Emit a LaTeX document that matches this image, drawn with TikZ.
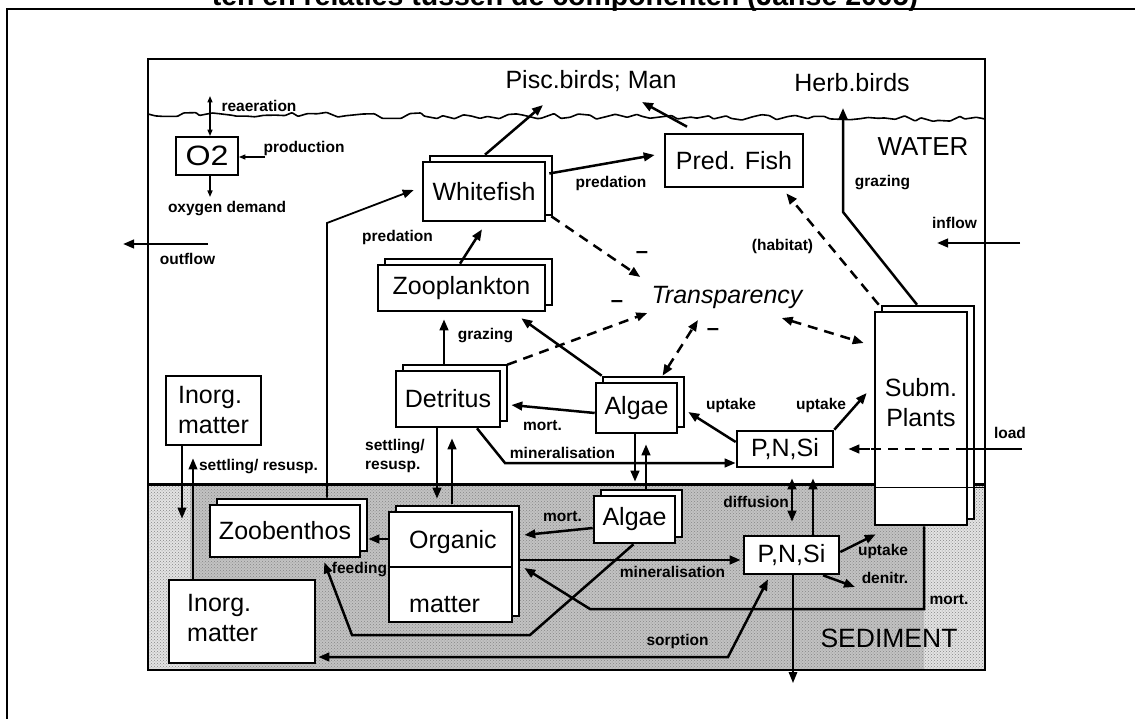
\documentclass[tikz,border=0pt]{standalone}
\usepackage{fontspec}
\setmainfont{Liberation Sans}
\usetikzlibrary{arrows.meta,shadows,patterns,decorations.pathmorphing,calc}
\begin{document}
\begin{tikzpicture}[x=1pt,y=-1pt,
  >={Triangle[length=11pt,width=8.5pt]},
  ln/.style={line width=2.5pt},
  arr/.style={ln,->},
  darr/.style={ln,<->},
  dsh/.style={ln,dash pattern=on 10pt off 7pt},
  thinarr/.style={line width=1.4pt,>={Triangle[length=6.5pt,width=5pt]}},
  box/.style={draw,line width=2.6pt,fill=white,inner sep=0pt,font=\fontsize{25}{30}\selectfont},
  dbox/.style={box,copy shadow={shadow xshift=7pt,shadow yshift=6pt,draw=black,fill=white,line width=2.6pt}},
  lbl/.style={inner sep=0pt,font=\bfseries\fontsize{15.5}{19}\selectfont},
  minus/.style={inner sep=0pt,font=\bfseries\fontsize{22}{24}\selectfont},
  txt/.style={inner sep=0pt,font=\fontsize{25}{30}\selectfont}]
\useasboundingbox (0,0) rectangle (1135,719);
% title (cropped at top)
\node[anchor=base,inner sep=0pt,font=\bfseries\fontsize{28.5}{30}\selectfont] (title) at (565,6) {ten en relaties tussen de componenten (Janse 2005)};
% outer frame
\draw[line width=1.8pt] (1135,9) -- (7,9) -- (7,719);
% sediment
\fill[gray!22] (148,484) rectangle (985,670);
\fill[gray!48] (190,484) rectangle (924,670);
\fill[pattern=crosshatch dots,pattern color=gray!95] (148,484) rectangle (985,670);
\draw[line width=1.5pt] (148,59) rectangle (985,670);
\draw[line width=3pt] (148,484) -- (985,484);
% water surface
\draw[line width=1.6pt,decorate,decoration={random steps,segment length=9pt,amplitude=3pt},rounded corners=0.8pt] (148,114) -- (985,119);

% coordinates for free ends and bends
\coordinate (rea) at (210,96);
\coordinate (prodS) at (265,157);
\coordinate (oxyE) at (210,197);
\coordinate (outS) at (208,244);
\coordinate (outE) at (123,244);
\coordinate (inS) at (1020,243);
\coordinate (inE) at (937,243);
\coordinate (piscTipA) at (543,105);
\coordinate (piscTipB) at (642,102);
\coordinate (herbTip) at (843,108);
\coordinate (grzBend) at (843,212);
\coordinate (minBend) at (505,463);
\coordinate (zbBend) at (327,223);
\coordinate (feedA) at (530,635);
\coordinate (feedB) at (352,635);
\coordinate (mortA) at (924,609);
\coordinate (mortB) at (590,609);
\coordinate (sorpB) at (728,657);
\coordinate (denTip) at (855,587);
\coordinate (downTip) at (793,683);
\coordinate (loadS) at (1022,449);
\coordinate (loadM) at (966,449);
\coordinate (loadD) at (870,449);

% boxes
\node[box,line width=1.8pt,minimum width=62pt,minimum height=38pt,font=\fontsize{28}{30}\selectfont] (o2) at (207,156) {\scalebox{1.15}[1]{O2}};
\node[dbox,minimum width=122pt,minimum height=59pt] (wf) at (484,191.5) {Whitefish};
\node[box,minimum width=138pt,minimum height=53pt] (pf) at (734,160.5) {Pred. Fish};
\node[dbox,minimum width=167pt,minimum height=46pt] (zp) at (461.5,288) {Zooplankton};
\node[dbox,minimum width=104pt,minimum height=56pt] (det) at (448,399) {Detritus};
\node[dbox,minimum width=81pt,minimum height=50pt] (alg) at (636.5,408) {Algae};
\node[box,minimum width=96pt,minimum height=36pt] (pns) at (785,449) {P,N,Si};
\node[dbox,minimum width=92pt,minimum height=213pt] (subm) at (921,418.5) {};
\node[txt,align=center] (submt) at (921,403) {Subm.\\Plants};
\node[box,minimum width=95pt,minimum height=69pt,align=left] (inw) at (213.5,410.5) {Inorg.\\matter};
\node[dbox,minimum width=150pt,minimum height=52pt] (zb) at (285,531) {Zoobenthos};
\node[dbox,minimum width=123pt,minimum height=110pt] (org) at (450.5,567) {};
\draw[line width=2pt] (org.west) -- (org.east);
\node[txt,anchor=west] (orgA) at (409,542) {Organic};
\node[txt,anchor=west] (orgB) at (409,605) {matter};
\node[dbox,minimum width=81pt,minimum height=47pt] (algs) at (634.5,519.5) {Algae};
\node[box,minimum width=95pt,minimum height=38pt] (pnss) at (791.5,555) {P,N,Si};
\node[box,minimum width=146pt,minimum height=83pt] (ins) at (242,621.5) {};
\node[txt,anchor=west,align=left] (insA) at (187,618) {Inorg.\\matter};
\draw[line width=0.8pt] (875,487) -- (985,487);

% free texts
\node[txt] (pisc) at (591,81) {Pisc.birds; Man};
\node[txt] (herb) at (852,83) {Herb.birds};
\node[txt,font=\fontsize{26}{30}\selectfont] (water) at (923,147) {WATER};
\node[txt,font=\fontsize{26.5}{30}\selectfont] (sed) at (889,638) {SEDIMENT};
\node[txt,font=\itshape\fontsize{25}{30}\selectfont] (tr) at (727,297) {Transparency};

% O2 connectors
\draw[thinarr,<->] (rea) -- (o2.north -| rea);
\draw[thinarr,->] (prodS) -- (o2.east |- prodS);
\draw[thinarr,->] (o2.south -| oxyE) -- (oxyE);
% in / out
\draw[arr] (outS) -- (outE);
\draw[arr] (inS) -- (inE);
% fish
\draw[arr] ([xshift=1pt,yshift=6pt]wf.north) -- (piscTipA);
\draw[arr] ([xshift=-47pt,yshift=6pt]pf.north) -- (piscTipB);
\draw[arr] ([xshift=3pt,yshift=18pt]wf.east) -- ([xshift=-9pt,yshift=5.5pt]pf.west);
\draw[arr] ([xshift=-1.5pt]zp.north) -- ([xshift=-2pt,yshift=-7pt]wf.south);
\draw[arr] ([xshift=-4pt,yshift=6pt]det.north) -- ([xshift=-17.5pt,yshift=-7pt]zp.south);
\draw[arr] ([xshift=7pt,yshift=6pt]alg.north west) -- ([xshift=-25pt,yshift=-6pt]zp.south east);
\draw[arr] ([yshift=-5pt]alg.west) -- ([xshift=10pt,yshift=-6pt]det.east);
\draw[arr] ([xshift=29pt]det.south) -- (minBend) -- (minBend -| pns.west);
\draw[arr] ([yshift=7pt]pns.west) -- ([xshift=10pt,yshift=-4pt]alg.east);
\draw[arr] (pns.north east) -- ([xshift=-7pt,yshift=25.5pt]subm.west);
\draw[arr] ([xshift=-4pt,yshift=6pt]subm.north) -- (grzBend) -- (herbTip);
% dashed
\draw[dsh,->] ([xshift=5pt,yshift=6pt]subm.north west) -- ([xshift=-18pt,yshift=-5pt]pf.south east);
\draw[dsh,<->] ([xshift=-21pt,yshift=-21pt]tr.east) -- ([xshift=-10pt,yshift=75.5pt]subm.west);
\draw[dsh,->] ([xshift=5pt,yshift=6pt]wf.south east) -- ([xshift=-11pt,yshift=20pt]tr.west);
\draw[dsh,->] ([xshift=6pt,yshift=5pt]det.north east) -- ([xshift=-4pt,yshift=-16pt]tr.west);
\draw[dsh,<->] ([xshift=26pt,yshift=6pt]alg.north) -- ([xshift=-29pt,yshift=-23pt]tr.center);
% water <-> sediment
\draw[arr] ([xshift=-1.5pt]alg.south) -- ([xshift=0.5pt,yshift=13pt]algs.north);
\draw[arr] ([xshift=11.5pt,yshift=4pt]algs.north) -- ([xshift=9.5pt,yshift=-10pt]alg.south);
\draw[arr] ([xshift=-11pt]det.south) -- ([xshift=-13.5pt,yshift=12pt]org.north);
\draw[arr] ([xshift=1.5pt,yshift=7pt]org.north) -- ([xshift=4pt,yshift=-10pt]det.south);
\draw[arr,line width=2pt] ([xshift=-31.5pt]inw.south) -- ([xshift=-60pt,yshift=60pt]ins.north);
\draw[arr,line width=2pt] ([xshift=-49pt]ins.north) -- ([xshift=-20.5pt,yshift=-12pt]inw.south);
\draw[arr,line width=1.8pt] ([xshift=42pt,yshift=6pt]zb.north) -- (zbBend) -- ([xshift=-8pt,yshift=1.5pt]wf.west);
\draw[darr] ([xshift=7pt,yshift=-10pt]pns.south) -- ([xshift=0.5pt,yshift=13pt]pnss.north);
\draw[arr] ([xshift=21.5pt]pnss.north) -- ([xshift=28pt,yshift=-10pt]pns.south);
% sediment
\draw[arr] ([yshift=28pt]org.west) -- ([xshift=7pt,yshift=-8pt]zb.east);
\draw[arr] ([yshift=-8.5pt]algs.west) -- ([xshift=11pt,yshift=32pt]org.east);
\draw[arr] ([xshift=6pt,yshift=7pt]org.east) -- ([xshift=-2pt,yshift=-5pt]pnss.west);
\draw[arr] ([xshift=-1pt]algs.south) -- (feedA) -- (feedB) -- ([xshift=-37pt,yshift=-4pt]zb.south east);
\draw[arr] ([xshift=3pt]subm.south) -- (mortA) -- (mortB) -- ([xshift=11pt,yshift=-1pt]org.east);
\draw[darr] ([xshift=-23.5pt,yshift=-4pt]pnss.south) -- (sorpB) -- ([xshift=2pt,yshift=-35.5pt]ins.east);
\draw[arr] ([yshift=3pt]pnss.east) -- ([xshift=2pt,yshift=-8pt]subm.south west);
\draw[arr] ([xshift=31.5pt]pnss.south) -- (denTip);
\draw[arr,line width=1.6pt] ([xshift=1.5pt]pnss.south) -- (downTip);
% load
\draw[ln] (loadS) -- (loadM);
\draw[dsh] (loadM) -- (loadD);
\draw[arr] (loadD) -- ([xshift=14pt]pns.east);

% labels
\node[lbl] (l1) at (259,106) {reaeration};
\node[lbl] (l2) at (304,148) {production};
\node[lbl] (l3) at (227,209) {oxygen demand};
\node[lbl] (l4) at (187.5,259) {outflow};
\node[lbl] (l5) at (611,183) {predation};
\node[lbl] (l6) at (397.5,237) {predation};
\node[lbl] (l7) at (882.5,183) {grazing};
\node[lbl] (l8) at (954.5,223) {inflow};
\node[lbl] (l9) at (782.5,246) {(habitat)};
\node[lbl] (l10) at (485.5,336) {grazing};
\node[lbl] (l11) at (542.5,426) {mort.};
\node[lbl] (l12) at (562.5,453) {mineralisation};
\node[lbl] (l13) at (731,405) {uptake};
\node[lbl] (l14) at (821,405) {uptake};
\node[lbl] (l15) at (1010,433) {load};
\node[lbl] (l16) at (258.5,467) {settling/ resusp.};
\node[lbl,align=left,anchor=west] (l17) at (365,455.5) {settling/\\resusp.};
\node[lbl] (l18) at (756,502) {diffusion};
\node[lbl] (l19) at (562.5,517) {mort.};
\node[lbl] (l20) at (359.5,570) {feeding};
\node[lbl] (l21) at (672.5,572) {mineralisation};
\node[lbl] (l22) at (883,551) {uptake};
\node[lbl] (l23) at (885,578) {denitr.};
\node[lbl] (l24) at (949,600) {mort.};
\node[lbl] (l25) at (677.5,641) {sorption};
\node[minus] (m1) at (642,255) {–};
\node[minus] (m2) at (617,304) {–};
\node[minus] (m3) at (713,332) {–};
\end{tikzpicture}
\end{document}
